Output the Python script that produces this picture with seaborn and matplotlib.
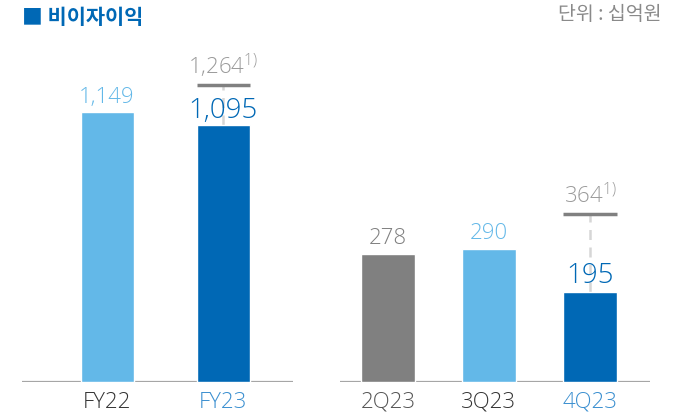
import matplotlib
matplotlib.use("Agg")
import matplotlib.pyplot as plt
import seaborn as sns
import pandas as pd

# Data
annual_labels = ["FY22", "FY23"]
annual_values = [1149, 1095]
annual_adjusted = 1264          # FY23 adjusted (footnote 1)
quarter_labels = ["2Q23", "3Q23", "4Q23"]
quarter_values = [278, 290, 195]
quarter_adjusted = 364          # 4Q23 adjusted (footnote 1)

LIGHT = "#63b8e8"
DARK = "#0068b5"
GREY = "#808080"
NUM_FONT = ["Open Sans", "DejaVu Sans"]
KR_FONT = ["Noto Sans CJK KR", "DejaVu Sans"]

sns.set_theme(style="white")
plt.rcParams["font.family"] = NUM_FONT
plt.rcParams["mathtext.fontset"] = "custom"
plt.rcParams["mathtext.rm"] = "Open Sans:light"

fig = plt.figure(figsize=(6.8, 4.19), dpi=100)
W, H = 680, 419


def px_axes(x0, x1, ytop, ybot):
    return fig.add_axes([x0 / W, (H - ybot) / H, (x1 - x0) / W, (ybot - ytop) / H])


ax1 = px_axes(22, 293, 40, 382)
ax2 = px_axes(340, 650, 40, 382)

annual_df = pd.DataFrame({"label": annual_labels, "value": annual_values})
quarter_df = pd.DataFrame({"label": quarter_labels, "value": quarter_values})

sns.barplot(data=annual_df, x="label", y="value", hue="label",
            palette=[LIGHT, DARK], width=0.457, legend=False, ax=ax1,
            saturation=1, zorder=3)
sns.barplot(data=quarter_df, x="label", y="value", hue="label",
            palette=[GREY, LIGHT, DARK], width=0.535, legend=False, ax=ax2,
            saturation=1, zorder=3)

ax1.set_xlim(-0.733, 1.603)
ax1.set_ylim(0, 1455)
ax2.set_xlim(-0.475, 2.594)
ax2.set_ylim(0, 743)

for ax in (ax1, ax2):
    sns.despine(ax=ax, left=True, bottom=True, top=True, right=True)
    ax.set_xlabel("")
    ax.set_ylabel("")
    ax.set_yticks([])
    ax.axhline(0, color="#a6a6a6", lw=1.6, zorder=2)
    ax.tick_params(axis="x", length=0, pad=7, labelsize=16)

tick_colors1 = ["#333333", "#3a8fd0"]
tick_colors2 = ["#555555", "#333333", "#3a8fd0"]
for t, c in zip(ax1.get_xticklabels(), tick_colors1):
    t.set_color(c)
    t.set_fontweight("light")
for t, c in zip(ax2.get_xticklabels(), tick_colors2):
    t.set_color(c)
    t.set_fontweight("light")

# value labels (baseline a few pixels above the bar)
label_styles1 = [(LIGHT, 16, 9), (DARK, 20, 7)]
for i, (v, (c, fs, off)) in enumerate(zip(annual_values, label_styles1)):
    ax1.annotate(f"{v:,}", (i, v), xytext=(0, off), textcoords="offset pixels",
                 ha="center", va="baseline", color=c, fontsize=fs,
                 fontweight="light", zorder=5)
label_styles2 = [(GREY, 16, 10), (LIGHT, 16, 10), (DARK, 20, 9)]
for i, (v, (c, fs, off)) in enumerate(zip(quarter_values, label_styles2)):
    ax2.annotate(f"{v:,}", (i, v), xytext=(0, off), textcoords="offset pixels",
                 ha="center", va="baseline", color=c, fontsize=fs,
                 fontweight="light", zorder=5)


# adjusted markers
def adjusted(ax, i, base, adj, width):
    ax.plot([i, i], [base, adj], color="#d6d6d6", lw=1.8, ls=(0, (4, 3)), zorder=1)
    ax.plot([i - width / 2, i + width / 2], [adj, adj], color=GREY, lw=2.5,
            solid_capstyle="butt", zorder=4)
    ax.annotate(f"{adj:,}" + r"$^{\mathrm{1)}}$", (i, adj), xytext=(0, 11),
                textcoords="offset pixels", ha="center", va="baseline",
                color="#9a9a9a", fontsize=16, fontweight="light", zorder=5)


adjusted(ax1, 1, annual_values[1], annual_adjusted, 0.457)
adjusted(ax2, 2, quarter_values[2], quarter_adjusted, 0.535)

# title and unit
fig.text(22 / W, 1 - 17 / H, "■ 비이자이익", color=DARK, fontsize=15,
         fontweight="bold", ha="left", va="center", family=KR_FONT)
fig.text(662 / W, 1 - 14 / H, "단위 : 십억원", color="#8a8a8a", fontsize=14,
         ha="right", va="center", family=KR_FONT)

fig.savefig("out.png", dpi=100)
